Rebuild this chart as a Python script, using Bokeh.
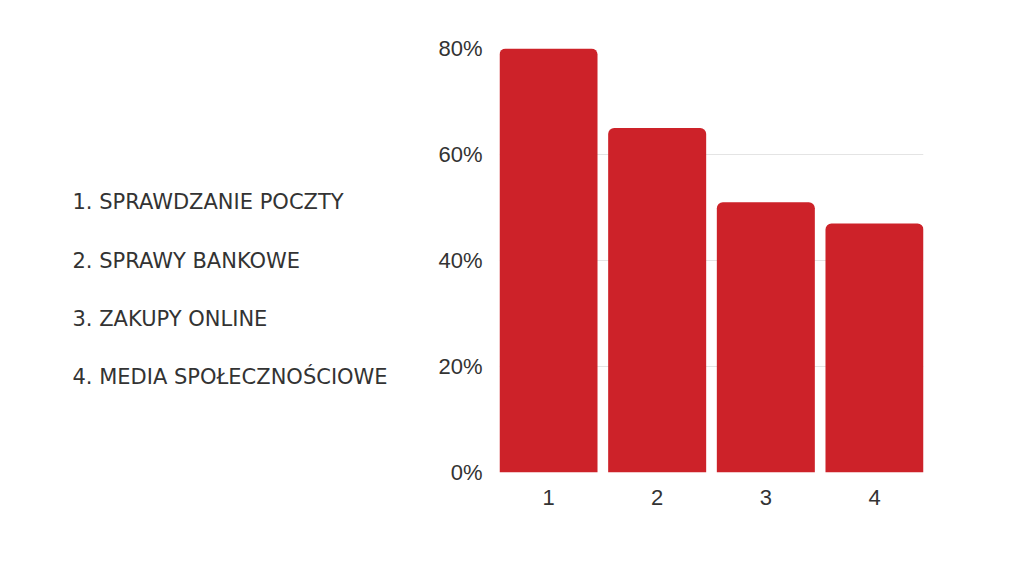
from bokeh.plotting import figure
from bokeh.layouts import row
from bokeh.models import Range1d, FactorRange, FixedTicker, PrintfTickFormatter, ColumnDataSource
from bokeh.core.properties import value
from bokeh.embed import file_html
from bokeh.resources import INLINE

categories = ["1", "2", "3", "4"]
shares = [80, 65, 51, 47]
legend_items = [
    "1. SPRAWDZANIE POCZTY",
    "2. SPRAWY BANKOWE",
    "3. ZAKUPY ONLINE",
    "4. MEDIA SPOŁECZNOŚCIOWE",
]
y_ticks = [0, 20, 40, 60, 80]

TOP = 48
BOT = 86
FH = 424
BAR_W = 0.902

# Left text panel (frame aligned with the bar chart's frame)
left = figure(frame_width=420, frame_height=FH, output_backend="svg", toolbar_location=None,
              x_range=Range1d(0, 420), y_range=Range1d(472, 48),
              min_border_left=0, min_border_right=0, min_border_top=TOP, min_border_bottom=BOT)
left.axis.visible = False
left.grid.visible = False
left.outline_line_color = None
src_l = ColumnDataSource(dict(x=[72] * 4, y=[201, 260, 318, 376], t=legend_items))
left.text(x="x", y="y", text="t", source=src_l, text_font=value("DejaVu Sans"),
          text_font_size="21px", text_color="#333333", text_baseline="middle",
          text_align="left")

# Right bar chart
p = figure(frame_width=424, frame_height=FH, output_backend="svg", toolbar_location=None,
           x_range=FactorRange(factors=categories, range_padding=-(1 - BAR_W) / 2,
                               range_padding_units="absolute"),
           y_range=Range1d(0, 80),
           min_border_left=79, min_border_right=93, min_border_top=TOP, min_border_bottom=BOT)
p.outline_line_color = None
p.xgrid.grid_line_color = None
p.ygrid.grid_line_color = "#e4e4e4"
p.ygrid.grid_line_width = 1
p.yaxis.ticker = FixedTicker(ticks=y_ticks)
p.yaxis.formatter = PrintfTickFormatter(format="%d%%")
for ax in (p.xaxis[0], p.yaxis[0]):
    ax.axis_line_color = None
    ax.major_tick_line_color = None
    ax.minor_tick_line_color = None
    ax.major_tick_out = 0
    ax.major_tick_in = 0
    ax.major_label_text_font = "Liberation Sans"
    ax.major_label_text_font_size = "22px"
    ax.major_label_text_color = "#333333"
p.yaxis.major_label_standoff = 17
p.xaxis.major_label_standoff = 17

src = ColumnDataSource(dict(x=categories, top=shares))
p.vbar(x="x", top="top", width=BAR_W, source=src, fill_color="#cd2229",
       line_color=None, border_radius=(6, 6, 0, 0))

layout = row(left, p, spacing=0)
open("out.html", "w").write(file_html(layout, INLINE))
